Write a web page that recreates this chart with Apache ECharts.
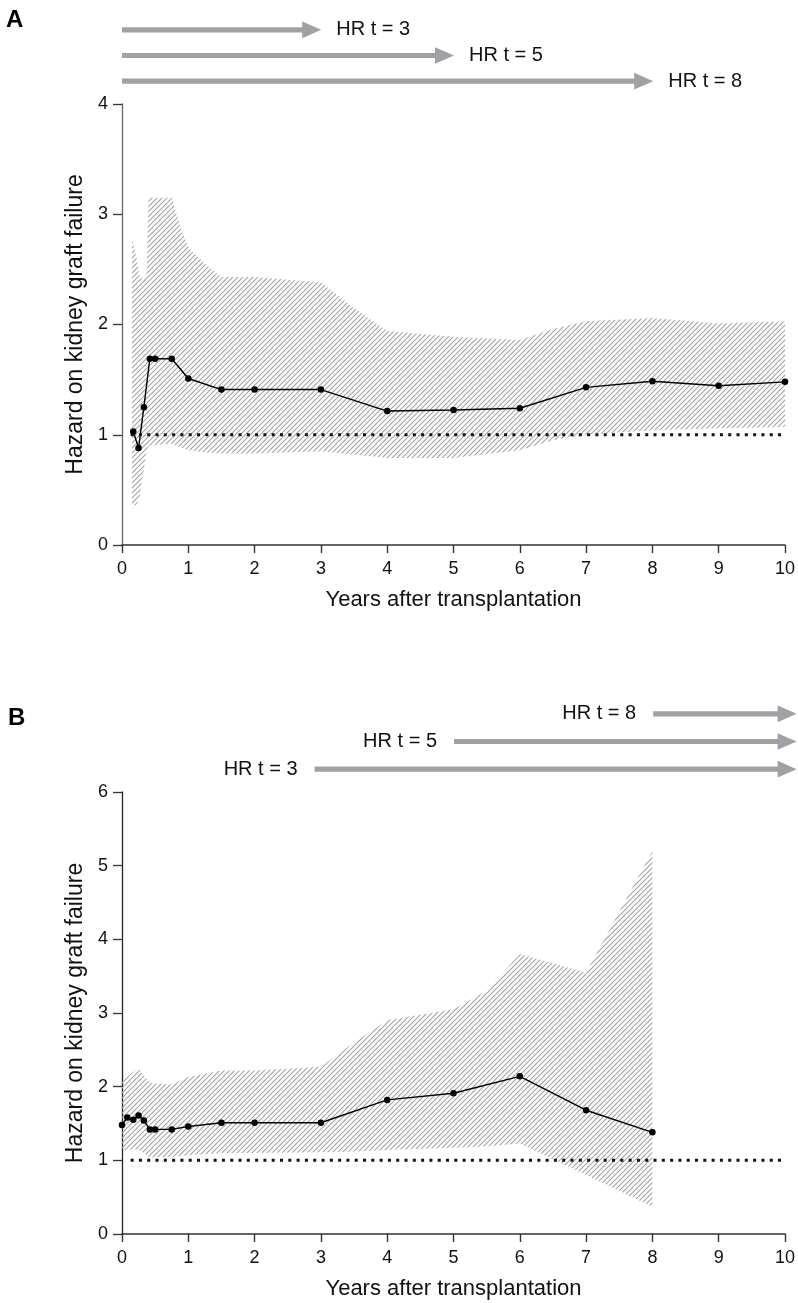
<!DOCTYPE html>
<html>
<head>
<meta charset="utf-8">
<script src="https://cdn.jsdelivr.net/npm/echarts@6/dist/echarts.min.js"></script>
<style>
  html, body { margin: 0; padding: 0; background: #fff; }
  #main { width: 798px; height: 1303px; }
</style>
</head>
<body>
<div id="main"></div>
<script>
// panel A : hazard ratio over time
var yearsA = [0.17, 0.25, 0.33, 0.42, 0.5, 0.75, 1, 1.5, 2, 3, 4, 5, 6, 7, 8, 9, 10];
var hrA = [1.03, 0.88, 1.25, 1.69, 1.69, 1.69, 1.51, 1.41, 1.41, 1.41, 1.215, 1.225, 1.24, 1.43, 1.485, 1.445, 1.48];
// panel A : confidence band (hatched)
var bandYearsA = [0.15, 0.22, 0.27, 0.37, 0.4, 0.75, 0.9, 1, 1.25, 1.5, 2, 3, 3.5, 4, 5, 6, 6.5, 7, 8, 9, 10];
var bandUpA = [2.78, 2.6, 2.42, 2.42, 3.15, 3.15, 2.85, 2.7, 2.55, 2.43, 2.43, 2.38, 2.15, 1.94, 1.89, 1.86, 1.96, 2.03, 2.06, 2.01, 2.03];
var bandLoA = [0.36, 0.36, 0.45, 0.85, 0.9, 0.92, 0.88, 0.86, 0.84, 0.83, 0.83, 0.85, 0.82, 0.79, 0.79, 0.86, 0.95, 1.0, 1.04, 1.06, 1.07];

// panel B
var yearsB = [0, 0.08, 0.17, 0.25, 0.33, 0.42, 0.5, 0.75, 1, 1.5, 2, 3, 4, 5, 6, 7, 8];
var hrB = [1.48, 1.58, 1.55, 1.61, 1.54, 1.42, 1.42, 1.42, 1.46, 1.51, 1.51, 1.51, 1.82, 1.91, 2.14, 1.68, 1.38];
var bandYearsB = [0, 0.25, 0.42, 0.75, 1, 1.5, 2, 3, 3.5, 4, 5, 5.5, 6, 7, 8];
var bandUpB = [2.09, 2.25, 2.05, 2.03, 2.13, 2.22, 2.22, 2.27, 2.6, 2.9, 3.05, 3.3, 3.8, 3.55, 5.2];
var bandLoB = [1.14, 1.15, 1.04, 1.05, 1.07, 1.1, 1.1, 1.11, 1.12, 1.14, 1.17, 1.19, 1.23, 0.8, 0.37];

// reference line HR = 1
var refYears = [0.13, 10];
var refHR = [1, 1];

// time windows (arrows)
var arrowLabels = ['HR t = 3', 'HR t = 5', 'HR t = 8'];
var arrowFromA = [0, 0, 0];
var arrowToA = [3, 5, 8];
var arrowFromB = [2.9, 5, 8];
var arrowToB = [10.16, 10.16, 10.16];

function pairs(xs, ys) {
    var out = [];
    for (var i = 0; i < xs.length; i++) out.push([xs[i], ys[i]]);
    return out;
}

// diagonal hatch
function hatch() {
    var n = 10, s = 5;
    var c = document.createElement('canvas');
    c.width = n; c.height = n;
    var g = c.getContext('2d');
    g.strokeStyle = '#a3a3a3';
    g.lineWidth = 1.1;
    g.beginPath();
    for (var k = 0; k <= 2 * n; k += s) {
        g.moveTo(k + 1, -1);
        g.lineTo(k - n - 1, n + 1);
    }
    g.stroke();
    return c;
}
var hatchFill = { image: hatch(), repeat: 'repeat' };

var FONT = '"Liberation Sans", Arial, sans-serif';
var ARROW = '#a1a1a5';

function arrowRender(labelLeft) {
    return function(params, api) {
        var i = params.dataIndex;
        var p0 = api.coord([api.value(0), api.value(2)]);
        var p1 = api.coord([api.value(1), api.value(2)]);
        var y = p0[1], hl = 19, hw = 8.3, sw = 2.6;
        var txt = labelLeft
            ? { type: 'text', x: p0[0] - 17, y: y, style: { text: arrowLabels[i], font: '20px ' + FONT, fill: '#111', align: 'right', verticalAlign: 'middle' } }
            : { type: 'text', x: p1[0] + 15, y: y, style: { text: arrowLabels[i], font: '20px ' + FONT, fill: '#111', align: 'left', verticalAlign: 'middle' } };
        return {
            type: 'group',
            children: [{
                type: 'polygon',
                shape: { points: [
                    [p0[0], y - sw], [p1[0] - hl, y - sw], [p1[0] - hl, y - hw], [p1[0], y],
                    [p1[0] - hl, y + hw], [p1[0] - hl, y + sw], [p0[0], y + sw]
                ] },
                style: { fill: ARROW }
            }, txt]
        };
    };
}

// band polygon: upper edge left->right, lower edge right->left
function bandRender(xs, up, lo) {
    return function(params, api) {
        if (params.dataIndex !== 0) return null;
        var pts = [];
        for (var i = 0; i < xs.length; i++) pts.push(api.coord([xs[i], up[i]]));
        for (var j = xs.length - 1; j >= 0; j--) pts.push(api.coord([xs[j], lo[j]]));
        return { type: 'polygon', shape: { points: pts }, style: { fill: hatchFill } };
    };
}

function plotX(gi) {
    return {
        gridIndex: gi, type: 'value', min: 0, max: 10, interval: 1,
        name: 'Years after transplantation', nameLocation: 'middle', nameGap: 44,
        nameTextStyle: { fontSize: 22, fontFamily: FONT, color: '#111' },
        axisLine: { lineStyle: { color: '#333', width: 1.6 } },
        axisTick: { length: 8, lineStyle: { color: '#333', width: 1.4 } },
        axisLabel: { fontSize: 18, fontFamily: FONT, color: '#111', margin: 15 },
        splitLine: { show: false }
    };
}
function plotY(gi, max, col) {
    return {
        gridIndex: gi, type: 'value', min: 0, max: max, interval: 1,
        name: 'Hazard on kidney graft failure', nameLocation: 'middle', nameGap: 34, nameRotate: 90,
        nameTextStyle: { fontSize: 23, fontFamily: FONT, color: '#111' },
        axisLine: { show: true, lineStyle: { color: col, width: 1.3 } },
        axisTick: { show: true, length: 9, lineStyle: { color: '#333', width: 1.3 } },
        axisLabel: { fontSize: 18, fontFamily: FONT, color: '#111', margin: 14 },
        splitLine: { show: false }
    };
}
function hiddenX(gi) {
    return { gridIndex: gi, type: 'value', min: 0, max: 10, show: false };
}
function rowsY(gi, inverse) {
    return { gridIndex: gi, type: 'category', data: arrowLabels, inverse: inverse, show: false };
}

function bandSeries(ax, xs, up, lo) {
    return {
        type: 'custom', xAxisIndex: ax, yAxisIndex: ax, silent: true, z: 1,
        data: xs.map(function(x, i) { return [x, lo[i], up[i]]; }),
        encode: { x: 0, y: [1, 2] },
        renderItem: bandRender(xs, up, lo)
    };
}
function refSeries(ax) {
    return {
        type: 'line', xAxisIndex: ax, yAxisIndex: ax, z: 2, silent: true,
        data: pairs(refYears, refHR), symbol: 'none',
        lineStyle: { color: '#111', width: 3, type: [3, 5.3] }
    };
}
function hrSeries(ax, xs, ys) {
    return {
        type: 'line', xAxisIndex: ax, yAxisIndex: ax, z: 3,
        data: pairs(xs, ys), symbol: 'circle', symbolSize: 6.5,
        itemStyle: { color: '#000' }, lineStyle: { color: '#000', width: 1.4 }
    };
}

var chart = echarts.init(document.getElementById('main'));
chart.setOption({
    animation: false,
    backgroundColor: '#fff',
    title: [
        { text: 'A', left: 1, top: 3, textStyle: { fontSize: 24, fontWeight: 'bold', fontFamily: FONT, color: '#000' } },
        { text: 'B', left: 3, top: 701, textStyle: { fontSize: 24, fontWeight: 'bold', fontFamily: FONT, color: '#000' } }
    ],
    grid: [
        { left: 122, top: 104, width: 664, height: 441 },
        { left: 122, top: 17, width: 664, height: 77 },
        { left: 122, top: 792, width: 664, height: 442 },
        { left: 122, top: 700, width: 664, height: 83 }
    ],
    xAxis: [plotX(0), hiddenX(1), plotX(2), hiddenX(3)],
    yAxis: [plotY(0, 4, '#666'), rowsY(1, true), plotY(2, 6, '#222'), rowsY(3, false)],
    series: [
        bandSeries(0, bandYearsA, bandUpA, bandLoA),
        refSeries(0),
        hrSeries(0, yearsA, hrA),
        bandSeries(2, bandYearsB, bandUpB, bandLoB),
        refSeries(2),
        hrSeries(2, yearsB, hrB),
        {
            type: 'custom', xAxisIndex: 1, yAxisIndex: 1, silent: true,
            data: arrowLabels.map(function(l, i) { return [arrowFromA[i], arrowToA[i], i]; }),
            renderItem: arrowRender(false)
        }, {
            type: 'custom', xAxisIndex: 3, yAxisIndex: 3, silent: true,
            data: arrowLabels.map(function(l, i) { return [arrowFromB[i], arrowToB[i], i]; }),
            renderItem: arrowRender(true)
        }
    ]
});
</script>
</body>
</html>
